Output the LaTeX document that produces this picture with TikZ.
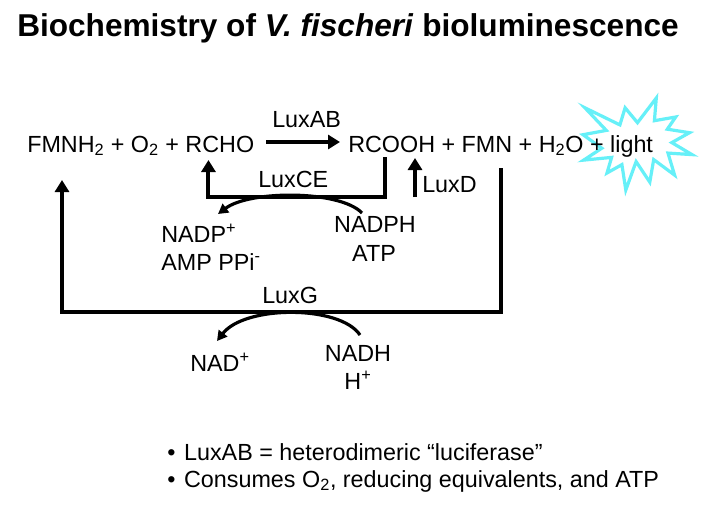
\documentclass[tikz,border=0pt]{standalone}
\usepackage{fontspec}
\setmainfont{Liberation Sans}
\usetikzlibrary{arrows.meta}
\definecolor{flash}{RGB}{102,240,248}

\begin{document}
\begin{tikzpicture}[x=0.75pt,y=-0.75pt,
  txt/.style={font=\fontsize{17.5}{21}\selectfont, inner sep=0pt},
  bigarrow/.style={line width=3pt, -{Triangle[length=9pt,width=10.5pt]}},
  curvearrow/.style={line width=2.4pt, -{Triangle[length=7.5pt,width=8pt]}}]
\useasboundingbox (0,0) rectangle (714,525);
\fill[white] (0,0) rectangle (714,525);
% title
\node[inner sep=0pt, anchor=base west, font=\fontsize{23.7}{28}\selectfont\bfseries] (title) at (17,36) {Biochemistry of \textit{V. fischeri} bioluminescence};
% burst behind "light"
\draw[flash, line width=2.4pt, fill=white] (637.5,122.7) -- (656.3,98) -- (654.4,120.7) -- (675.7,117) -- (667.3,129.2) -- (689.5,132.7) -- (671.8,142.6) -- (692,154.6) -- (668,153.1) -- (674.6,175.1) -- (653.7,159.6) -- (649.8,182.1) -- (636.1,161.6) -- (625.8,190) -- (621.9,164.6) -- (607,173) -- (611.6,157.4) -- (583.7,160.1) -- (601.8,148.2) -- (583,134.7) -- (606.3,130.4) -- (584.9,107.8) -- (619.9,124.9) -- (625.1,107.8) -- cycle;
% main reaction
\node[txt, anchor=base west] (react) at (27,152) {FMNH\textsubscript{2} + O\textsubscript{2} + RCHO};
\node[txt, anchor=base west] (prod) at (348,152) {RCOOH + FMN + H\textsubscript{2}O + light};
\node[txt, anchor=base west] (luxab) at (272,127) {LuxAB};
\draw[bigarrow] ([shift={(12,-10)}]react.base east) -- ([shift={(-8,-10)}]prod.base west);
% acid back to aldehyde
\node[txt, anchor=base west] (luxce) at (258,187) {LuxCE};
\draw[bigarrow] ([shift={(37,5)}]prod.base west) -- ++(0,40) -| ([shift={(-46,8)}]react.base east);
\node[txt, anchor=base west] (luxd) at (422,192) {LuxD};
\draw[bigarrow] ([shift={(-7,5)}]luxd.base west) -- ++(0,-39);
\node[txt, anchor=base west] (nadp) at (161,242) {NADP\textsuperscript{+}};
\node[txt, anchor=base west] (amp) at (161,270) {AMP PPi\textsuperscript{-}};
\node[txt, anchor=base] (nadph) at (375,232) {NADPH};
\node[txt, anchor=base] (atp) at (374,261) {ATP};
\draw[curvearrow] ([shift={(-13,-19)}]nadph.base) .. controls +(-22,-23) and +(32,-24) .. ([shift={(57,-28)}]nadp.base west);
% flavin back to FMNH2
\node[txt, anchor=base west] (luxg) at (262,303) {LuxG};
\draw[bigarrow] ([shift={(153,16)}]prod.base west) -- ++(0,144) -| ([shift={(35,28)}]react.base west);
\node[txt, anchor=base west] (nad) at (190,371) {NAD\textsuperscript{+}};
\node[txt, anchor=base] (nadh) at (358,361) {NADH};
\node[txt, anchor=base] (hplus) at (358,389) {H\textsuperscript{+}};
\draw[curvearrow] ([shift={(2,-26)}]nadh.base) .. controls +(-20,-30) and +(28,-36) .. ([shift={(27,-30)}]nad.base west);
% notes
\node[txt, anchor=base west] (noteA) at (167,460) {\textbullet\hspace{6.5pt}LuxAB = heterodimeric ``luciferase''};
\node[txt, anchor=base west] (noteB) at (167,487) {\textbullet\hspace{6.5pt}Consumes O\textsubscript{2}, reducing equivalents, and ATP};
\end{tikzpicture}
\end{document}
